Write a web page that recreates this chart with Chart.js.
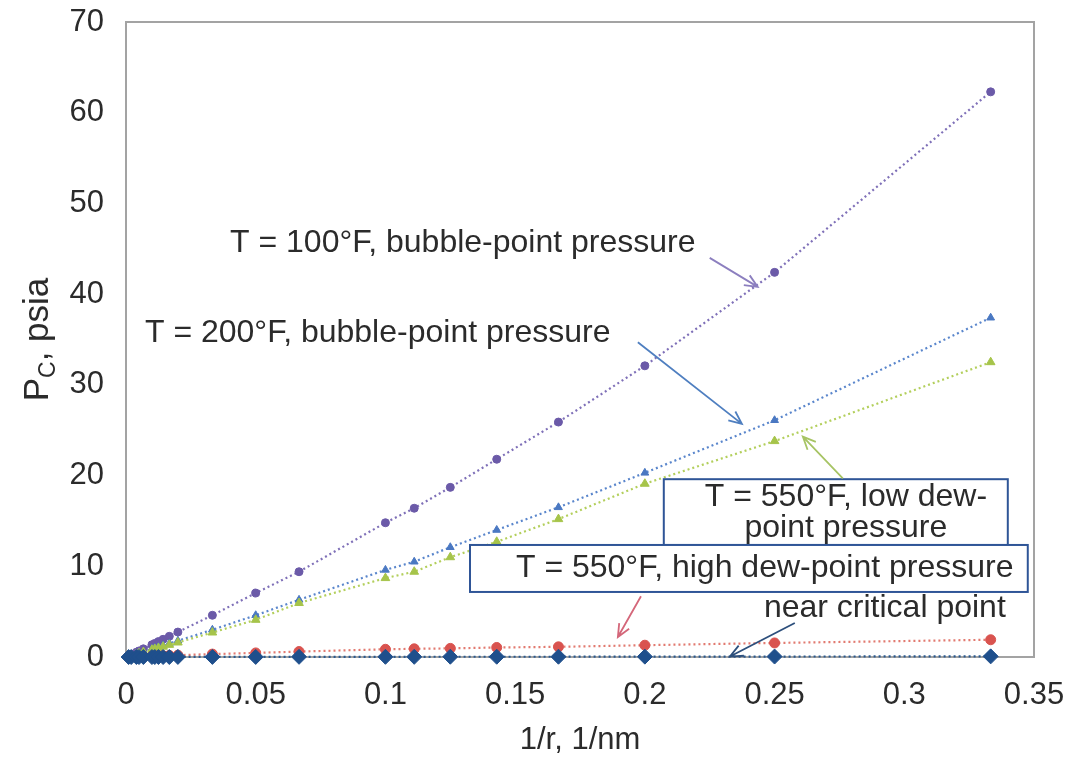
<!DOCTYPE html>
<html>
<head>
<meta charset="utf-8">
<script src="https://cdn.jsdelivr.net/npm/chart.js@4"></script>
<style>
  html, body { margin: 0; padding: 0; background: #fff; }
  #wrap { width: 1074px; height: 759px; }
</style>
</head>
<body>
<div id="wrap"><canvas id="pc-chart" width="1074" height="759"></canvas></div>
<script>
// 1/r values (1/nm) shared by every curve
const invRadius = [0.001, 0.002, 0.004, 0.005, 0.0067, 0.01, 0.0111, 0.0125, 0.0143, 0.0167, 0.02,
    0.0333, 0.05, 0.0667, 0.1, 0.1111, 0.125, 0.1429, 0.1667, 0.2, 0.25, 0.3333];

// capillary pressure, psia
const bubble100F = [0.13, 0.27, 0.53, 0.67, 0.9, 1.35, 1.5, 1.7, 1.95, 2.28, 2.75,
    4.6, 7.05, 9.4, 14.8, 16.4, 18.7, 21.8, 25.9, 32.1, 42.4, 62.3];
const bubble200F = [0.09, 0.18, 0.36, 0.45, 0.6, 0.89, 0.99, 1.11, 1.27, 1.49, 1.79,
    3.0, 4.6, 6.3, 9.6, 10.5, 12.1, 14.0, 16.5, 20.3, 26.1, 37.4];
const lowDew550F = [0.08, 0.16, 0.32, 0.4, 0.54, 0.8, 0.89, 1.0, 1.14, 1.34, 1.6,
    2.7, 4.1, 5.95, 8.7, 9.4, 11.0, 12.7, 15.2, 19.1, 23.8, 32.5];
const highDew550F = [0.01, 0.02, 0.04, 0.05, 0.07, 0.1, 0.11, 0.12, 0.14, 0.17, 0.2,
    0.32, 0.45, 0.6, 0.85, 0.9, 0.95, 1.05, 1.12, 1.3, 1.55, 1.9];
const nearCritical = [0, 0, 0, 0, 0, 0, 0, 0, 0, 0, 0.01,
    0.01, 0.01, 0.02, 0.02, 0.02, 0.03, 0.03, 0.03, 0.04, 0.05, 0.07];

const xTicks = [0, 0.05, 0.1, 0.15, 0.2, 0.25, 0.3, 0.35];
const yTicks = [0, 10, 20, 30, 40, 50, 60, 70];

const FONT = '"Liberation Sans", Arial, sans-serif';
const TEXT = '#2b2b2b';

function pts(ys) {
    return invRadius.map(function (x, i) { return { x: x, y: ys[i] }; });
}

function series(values, color, lineColor, style, radius, order) {
    return {
        data: pts(values),
        showLine: true,
        clip: false,
        borderColor: lineColor,
        borderWidth: 2.2,
        borderDash: [2, 3],
        backgroundColor: color,
        pointBackgroundColor: color,
        pointBorderColor: color,
        pointBorderWidth: 1,
        pointStyle: style,
        pointRadius: radius,
        tension: 0,
        order: order
    };
}

// callouts: text in data coordinates, arrows from -> to
const labels = [
    { text: 'T = 100°F, bubble-point pressure', x: 0.0401, y: 45.6, align: 'left' },
    { text: 'T = 200°F, bubble-point pressure', x: 0.0073, y: 35.7, align: 'left' },
    { text: 'near critical point', x: 0.2925, y: 5.4, align: 'center' }
];
const boxes = [
    { lines: ['T = 550°F, low dew-', 'point pressure'], x0: 0.2073, x1: 0.3399, y0: 19.6, y1: 12.35, cx: 0.2775, ys: [17.6, 14.2] },
    { lines: ['T = 550°F, high dew-point pressure'], x0: 0.1326, x1: 0.3476, y0: 12.35, y1: 7.17, cx: 0.2462, ys: [9.75] }
];
const arrows = [
    { from: [0.225, 44.0], to: [0.2435, 40.8], color: '#8c7fbf' },
    { from: [0.1973, 34.7], to: [0.2374, 25.7], color: '#4f7fc0' },
    { from: [0.2763, 19.7], to: [0.2609, 24.3], color: '#a7c464' },
    { from: [0.1985, 6.7], to: [0.1896, 2.2], color: '#d4677a' },
    { from: [0.2578, 3.75], to: [0.2328, 0.05], color: '#2d4f7c' }
];

function arrow(ctx, x1, y1, x2, y2, color) {
    const a = Math.atan2(y2 - y1, x2 - x1);
    const len = 14;
    ctx.save();
    ctx.strokeStyle = color;
    ctx.lineWidth = 1.8;
    ctx.beginPath();
    ctx.moveTo(x1, y1);
    ctx.lineTo(x2, y2);
    ctx.moveTo(x2 - len * Math.cos(a - 0.42), y2 - len * Math.sin(a - 0.42));
    ctx.lineTo(x2, y2);
    ctx.lineTo(x2 - len * Math.cos(a + 0.42), y2 - len * Math.sin(a + 0.42));
    ctx.stroke();
    ctx.restore();
}

// tick labels may hang past the plot edges without shrinking it
function noOverhang(s) {
    s.paddingTop = 0;
    s.paddingBottom = 0;
    s.paddingLeft = 0;
    s.paddingRight = 0;
}

const framePlugin = {
    id: 'frame',
    beforeDatasetsDraw: function (chart) {
        const a = chart.chartArea;
        const ctx = chart.ctx;
        ctx.save();
        ctx.strokeStyle = '#a3a3a3';
        ctx.lineWidth = 2;
        ctx.strokeRect(a.left, a.top, a.right - a.left, a.bottom - a.top);
        ctx.restore();
    }
};

const calloutPlugin = {
    id: 'callouts',
    afterDatasetsDraw: function (chart) {
        const ctx = chart.ctx;
        const xs = chart.scales.x;
        const ys = chart.scales.y;
        const px = function (v) { return xs.getPixelForValue(v); };
        const py = function (v) { return ys.getPixelForValue(v); };

        ctx.save();
        ctx.font = '32px ' + FONT;
        ctx.fillStyle = TEXT;
        ctx.textBaseline = 'middle';
        labels.forEach(function (l) {
            ctx.textAlign = l.align;
            ctx.fillText(l.text, px(l.x), py(l.y));
        });

        boxes.forEach(function (b) {
            const x0 = px(b.x0), x1 = px(b.x1), y0 = py(b.y0), y1 = py(b.y1);
            ctx.fillStyle = '#fff';
            ctx.fillRect(x0, y0, x1 - x0, y1 - y0);
            ctx.strokeStyle = '#2f5597';
            ctx.lineWidth = 2;
            ctx.strokeRect(x0, y0, x1 - x0, y1 - y0);
            ctx.fillStyle = TEXT;
            ctx.textAlign = 'center';
            b.lines.forEach(function (t, i) {
                ctx.fillText(t, px(b.cx), py(b.ys[i]));
            });
        });
        ctx.restore();

        arrows.forEach(function (r) {
            arrow(ctx, px(r.from[0]), py(r.from[1]), px(r.to[0]), py(r.to[1]), r.color);
        });

        // y-axis title with subscript
        ctx.save();
        ctx.translate(48, (chart.chartArea.top + chart.chartArea.bottom) / 2);
        ctx.rotate(-Math.PI / 2);
        ctx.fillStyle = TEXT;
        ctx.textBaseline = 'alphabetic';
        ctx.textAlign = 'left';
        const big = '35px ' + FONT;
        const small = '23px ' + FONT;
        ctx.font = big;
        const wP = ctx.measureText('P').width;
        const wRest = ctx.measureText(', psia').width;
        ctx.font = small;
        const wC = ctx.measureText('C').width;
        let x = -(wP + wC + wRest) / 2;
        ctx.font = big;
        ctx.fillText('P', x, 0);
        x += wP;
        ctx.font = small;
        ctx.fillText('C', x, 7);
        x += wC;
        ctx.font = big;
        ctx.fillText(', psia', x, 0);
        ctx.restore();
    }
};

const ctx = document.getElementById('pc-chart').getContext('2d');
new Chart(ctx, {
    type: 'scatter',
    data: {
        datasets: [
            series(bubble100F, '#6b5aa8', '#7f70b8', 'circle', 4, 5),
            series(bubble200F, '#4a78c2', '#5a86cc', 'triangle', 4.5, 4),
            series(lowDew550F, '#a6c44a', '#b3cf5c', 'triangle', 5, 3),
            series(highDew550F, '#d9534f', '#e27a70', 'circle', 5, 2),
            series(nearCritical, '#1f4f8c', '#2a5a90', 'rectRot', 7.5, 1)
        ]
    },
    options: {
        responsive: false,
        animation: false,
        layout: { padding: { top: 22, right: 40, left: 0, bottom: 0 } },
        plugins: {
            legend: { display: false },
            tooltip: { enabled: false }
        },
        scales: {
            x: {
                type: 'linear',
                min: 0,
                max: 0.35,
                afterFit: function (s) { s.height = 102; noOverhang(s); },
                afterBuildTicks: function (s) { s.ticks = xTicks.map(function (v) { return { value: v }; }); },
                grid: { display: false, drawTicks: false },
                border: { display: false },
                ticks: {
                    padding: 20,
                    color: TEXT,
                    font: { family: FONT, size: 31 },
                    callback: function (v) { return String(Number(v.toFixed(2))); }
                },
                title: {
                    display: true,
                    text: '1/r, 1/nm',
                    color: TEXT,
                    font: { family: FONT, size: 31 },
                    padding: { top: 0, bottom: 0 }
                }
            },
            y: {
                type: 'linear',
                min: 0,
                max: 70,
                afterFit: function (s) { s.width = 126; noOverhang(s); },
                afterBuildTicks: function (s) { s.ticks = yTicks.map(function (v) { return { value: v }; }); },
                grid: { display: false, drawTicks: false },
                border: { display: false },
                ticks: {
                    padding: 22,
                    color: TEXT,
                    font: { family: FONT, size: 31 }
                }
            }
        }
    },
    plugins: [framePlugin, calloutPlugin]
});
</script>
</body>
</html>
